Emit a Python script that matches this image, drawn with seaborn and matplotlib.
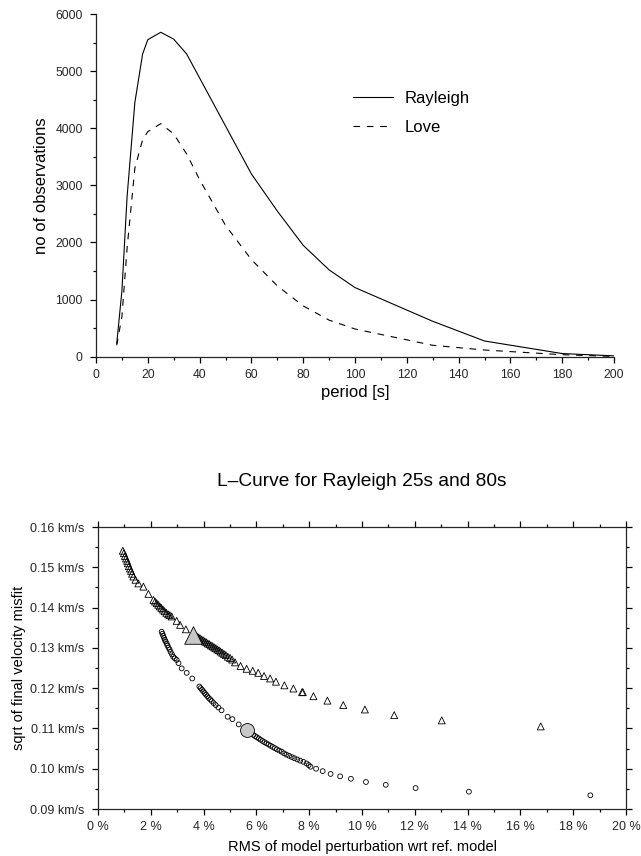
import numpy as np
import pandas as pd
import seaborn as sns
import matplotlib.pyplot as plt
from matplotlib.ticker import MultipleLocator, FixedLocator, FixedFormatter

# --- data: number of observations per period ---
periods = [8, 10, 12, 15, 18, 20, 25, 30, 35, 40, 50, 60, 70, 80, 90, 100, 130, 150, 180, 200]
rayleigh_obs = [230, 1150, 2800, 4450, 5300, 5550, 5680, 5560, 5300, 4880, 4040, 3200,
                2550, 1950, 1520, 1210, 620, 275, 55, 15]
love_obs = [200, 700, 1900, 3300, 3800, 3940, 4080, 3900, 3550, 3100, 2300, 1700,
            1240, 890, 640, 485, 200, 117, 35, 5]

# --- data: L-curve (model RMS in %, misfit in km/s) ---
tri_x = [0.94, 0.98, 1.02, 1.06, 1.10, 1.13, 1.17, 1.21, 1.25, 1.29, 1.34, 1.42, 1.53, 1.72, 1.91,
         2.10, 2.16, 2.22, 2.28, 2.34, 2.40, 2.46, 2.52, 2.59, 2.66, 2.72, 2.79, 2.98, 3.11, 3.33,
         3.75, 3.80, 3.86, 3.92, 3.98, 4.04, 4.10, 4.16, 4.22, 4.28, 4.34, 4.40, 4.46, 4.52, 4.58,
         4.64, 4.70, 4.77, 4.84, 4.92, 5.00, 5.08, 5.19, 5.40, 5.63, 5.86,
         6.07, 6.29, 6.52, 6.74, 7.06, 7.40, 7.73, 7.76, 8.16, 8.69, 9.29, 10.11, 11.22, 13.02, 16.77]
tri_y = [0.1541, 0.1535, 0.1528, 0.1522, 0.1516, 0.1510, 0.1503, 0.1497, 0.1491, 0.1484, 0.1477,
         0.1469, 0.1460, 0.1452, 0.1434,
         0.1419, 0.1415, 0.1411, 0.1407, 0.1403, 0.1399, 0.1395, 0.1391, 0.1387, 0.1383, 0.1381,
         0.1378, 0.1367, 0.1357, 0.1346,
         0.1328, 0.1326, 0.1324, 0.1321, 0.1319, 0.1316, 0.1314, 0.1311, 0.1309, 0.1306, 0.1304,
         0.1301, 0.1299, 0.1296, 0.1294, 0.1291, 0.1288, 0.1285, 0.1282, 0.1278, 0.1275, 0.1271,
         0.1264, 0.1255, 0.1248, 0.1243,
         0.1238, 0.1230, 0.1224, 0.1216, 0.1207, 0.1199, 0.1190, 0.1190, 0.1180, 0.1169, 0.1158,
         0.1147, 0.1133, 0.1120, 0.1105]

circ_x = [2.41, 2.44, 2.47, 2.50, 2.53, 2.56, 2.60, 2.63, 2.67, 2.71, 2.75, 2.80, 2.85, 2.91,
          2.98, 3.05, 3.17, 3.36, 3.57,
          3.84, 3.89, 3.94, 3.99, 4.04, 4.09, 4.14, 4.19, 4.25, 4.31, 4.38, 4.46, 4.56, 4.68,
          4.91, 5.09, 5.33,
          5.88, 5.95, 6.02, 6.09, 6.16, 6.23, 6.30, 6.38, 6.46, 6.54, 6.62, 6.70, 6.78, 6.87,
          6.96, 7.05, 7.14, 7.24, 7.34, 7.44, 7.55, 7.66, 7.78, 7.90, 7.98, 8.05, 8.26,
          8.51, 8.81, 9.17, 9.58, 10.15, 10.90, 12.03, 14.05, 18.65]
circ_y = [0.1340, 0.1335, 0.1330, 0.1325, 0.1320, 0.1316, 0.1311, 0.1306, 0.1301, 0.1296,
          0.1290, 0.1284, 0.1278, 0.1274, 0.1270, 0.1262, 0.1249, 0.1238, 0.1224,
          0.1204, 0.1200, 0.1196, 0.1192, 0.1188, 0.1184, 0.1180, 0.1176, 0.1172, 0.1168,
          0.1163, 0.1158, 0.1152, 0.1145, 0.1129, 0.1123, 0.1110,
          0.1084, 0.1081, 0.1078, 0.1075, 0.1072, 0.1069, 0.1066, 0.1063, 0.1060, 0.1057,
          0.1054, 0.1051, 0.1048, 0.1045, 0.1042, 0.1038, 0.1035, 0.1032, 0.1029, 0.1026,
          0.1023, 0.1020, 0.1017, 0.1013, 0.1009, 0.1005, 0.1000,
          0.0994, 0.0987, 0.0981, 0.0975, 0.0967, 0.0960, 0.0952, 0.0943, 0.0934]

sel_tri = (3.60, 0.1332)
sel_circ = (5.66, 0.1095)

y_ticks = [0.09, 0.10, 0.11, 0.12, 0.13, 0.14, 0.15, 0.16]
y_ticklabels = ["0.09 km/s", "0.10 km/s", "0.11 km/s", "0.12 km/s",
                "0.13 km/s", "0.14 km/s", "0.15 km/s", "0.16 km/s"]
x_ticks = [0, 2, 4, 6, 8, 10, 12, 14, 16, 18, 20]
x_ticklabels = ["0 %", "2 %", "4 %", "6 %", "8 %", "10 %", "12 %", "14 %", "16 %", "18 %", "20 %"]

# --- style ---
sns.set_theme(style="ticks")
plt.rcParams['font.family'] = ['Liberation Sans', 'DejaVu Sans']
plt.rcParams['axes.linewidth'] = 0.9
plt.rcParams['text.color'] = 'black'
plt.rcParams['axes.labelcolor'] = 'black'

fig = plt.figure(figsize=(6.41, 8.56), dpi=100)
W, H = 641.0, 856.0

# ============ top panel ============
ax1 = fig.add_axes([96 / W, 1 - 356.7 / H, (614 - 96) / W, (356.7 - 14) / H])
df = pd.DataFrame({
    "period": periods * 2,
    "count": rayleigh_obs + love_obs,
    "wave": ["Rayleigh"] * len(periods) + ["Love"] * len(periods),
})
sns.lineplot(data=df, x="period", y="count", style="wave", color="black", lw=0.8,
             dashes={"Rayleigh": "", "Love": (6, 6)}, ax=ax1)
ax1.set_xlim(0, 200)
ax1.set_ylim(0, 6000)
sns.despine(ax=ax1)
ax1.xaxis.set_major_locator(MultipleLocator(20))
ax1.xaxis.set_minor_locator(MultipleLocator(10))
ax1.yaxis.set_major_locator(MultipleLocator(1000))
ax1.yaxis.set_minor_locator(MultipleLocator(500))
ax1.tick_params(which="major", length=4.3, width=0.9, labelsize=8.7, color="black")
ax1.tick_params(which="minor", length=2.5, width=0.9, color="black")
ax1.tick_params(axis="y", pad=5.3)
ax1.tick_params(axis="x", pad=4.5)
ax1.set_xlabel("period [s]", fontsize=12)
ax1.set_ylabel("no of observations", fontsize=12)
ax1.xaxis.set_label_coords(0.5, -0.083)
ax1.yaxis.set_label_coords(-0.091, 0.5)
ax1.legend(frameon=False, fontsize=12, loc="upper left",
           bbox_to_anchor=((353 - 96) / 518, (356.7 - 91) / 342.7),
           borderpad=0, borderaxespad=0, handlelength=2.4, handletextpad=0.7,
           labelspacing=0.85)

# ============ bottom panel ============
ax2 = fig.add_axes([98 / W, 1 - 809 / H, (626 - 98) / W, (809 - 527) / H])
sns.scatterplot(x=tri_x, y=tri_y, marker="^", s=25, facecolor="none",
                edgecolor="black", linewidth=0.6, ax=ax2)
sns.scatterplot(x=circ_x, y=circ_y, marker="o", s=12, facecolor="none",
                edgecolor="black", linewidth=0.6, ax=ax2)
sns.scatterplot(x=[sel_tri[0]], y=[sel_tri[1]], marker="^", s=160, color="#c8c8c8",
                edgecolor="black", linewidth=0.6, ax=ax2, zorder=5)
sns.scatterplot(x=[sel_circ[0]], y=[sel_circ[1]], marker="o", s=100, color="#c8c8c8",
                edgecolor="black", linewidth=0.6, ax=ax2, zorder=5)
ax2.set_xlim(0, 20)
ax2.set_ylim(0.09, 0.16)
ax2.xaxis.set_major_locator(FixedLocator(x_ticks))
ax2.xaxis.set_major_formatter(FixedFormatter(x_ticklabels))
ax2.xaxis.set_minor_locator(MultipleLocator(1))
ax2.yaxis.set_major_locator(FixedLocator(y_ticks))
ax2.yaxis.set_major_formatter(FixedFormatter(y_ticklabels))
ax2.yaxis.set_minor_locator(MultipleLocator(0.005))
ax2.tick_params(which="both", direction="out", top=True, right=True, color="black")
ax2.tick_params(which="major", length=4.3, width=0.9, labelsize=9)
ax2.tick_params(which="minor", length=2.5, width=0.9)
ax2.tick_params(axis="y", pad=5.5)
ax2.tick_params(axis="x", pad=4.3)
ax2.set_xlabel("RMS of model perturbation wrt ref. model", fontsize=10.5)
ax2.set_ylabel("sqrt of final velocity misfit", fontsize=10.5)
ax2.xaxis.set_label_coords(0.5, -0.110)
ax2.yaxis.set_label_coords(-0.136, 0.5)
ax2.text(0.5, 1 + (527 - 485.7) / 282, "L\u2013Curve for Rayleigh 25s and 80s",
         transform=ax2.transAxes, ha="center", va="baseline", fontsize=13.8)

fig.savefig("out.png", dpi=100)
